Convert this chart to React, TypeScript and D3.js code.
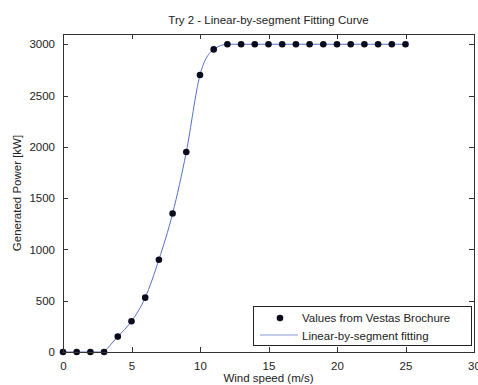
import React, { useEffect, useRef } from "react";
import * as d3 from "d3";

// wind speed (m/s) and power (kW) read from the brochure points
const windSpeed = [0, 1, 2, 3, 4, 5, 6, 7, 8, 9, 10, 11, 12, 13, 14, 15, 16, 17, 18, 19, 20, 21, 22, 23, 24, 25];
const power = [0, 0, 0, 0, 150, 300, 530, 900, 1350, 1950, 2700, 2950, 3000, 3000, 3000, 3000, 3000, 3000, 3000, 3000, 3000, 3000, 3000, 3000, 3000, 3000];
const xTicks = [0, 5, 10, 15, 20, 25, 30];
const yTicks = [0, 500, 1000, 1500, 2000, 2500, 3000];
const seriesNames = ["Values from Vestas Brochure", "Linear-by-segment fitting"];

const App = () => {
  const svgRef = useRef<SVGSVGElement>(null);

  useEffect(() => {
    const W = 478;
    const H = 385;
    const margin = { top: 34, right: 4, bottom: 33, left: 63 };
    const width = W - margin.left - margin.right;
    const height = H - margin.top - margin.bottom;
    const svg = d3.select(svgRef.current);
    svg.selectAll("*").remove();

    const font = "Liberation Sans, Arial, sans-serif";
    const textColor = "#222";

    const xScale = d3.scaleLinear().domain([0, 30]).range([0, width]);
    const yScale = d3.scaleLinear().domain([0, 3100]).range([height, 0]);

    svg.append("rect").attr("width", W).attr("height", H).attr("fill", "#fff");

    const chart = svg.append("g").attr("transform", `translate(${margin.left},${margin.top})`);

    // fitting curve
    const pts = windSpeed.map((d, i) => [d, power[i]] as [number, number]);
    const line = d3
      .line<[number, number]>()
      .x((d) => xScale(d[0]))
      .y((d) => yScale(d[1]))
      .curve(d3.curveMonotoneX);
    chart
      .append("path")
      .datum(pts.slice(3))
      .attr("d", line)
      .attr("fill", "none")
      .attr("stroke", "#5670c8")
      .attr("stroke-width", 1);
    chart
      .append("path")
      .datum(pts.slice(0, 4))
      .attr("d", d3.line<[number, number]>().x((d) => xScale(d[0])).y((d) => yScale(d[1])))
      .attr("fill", "none")
      .attr("stroke", "#5670c8")
      .attr("stroke-width", 1);

    // points
    chart
      .selectAll(".dot")
      .data(pts)
      .enter()
      .append("circle")
      .attr("cx", (d) => xScale(d[0]))
      .attr("cy", (d) => yScale(d[1]))
      .attr("r", 3.3)
      .attr("fill", "#0b0b1e");

    // axes box
    chart
      .append("rect")
      .attr("width", width)
      .attr("height", height)
      .attr("fill", "none")
      .attr("stroke", "#333")
      .attr("stroke-width", 1)
      .attr("shape-rendering", "crispEdges");

    const tick = 5;
    const axisStyle = (g: d3.Selection<SVGGElement, unknown, null, undefined>) => {
      g.select(".domain").remove();
      g.selectAll("line").attr("stroke", "#333").attr("shape-rendering", "crispEdges");
      g.selectAll("text").attr("fill", textColor).style("font-family", font).style("font-size", "11.5px");
    };

    chart
      .append("g")
      .attr("transform", `translate(0,${height})`)
      .call(d3.axisBottom(xScale).tickValues(xTicks).tickSize(-tick).tickPadding(10).tickFormat(d3.format("d")))
      .call(axisStyle);
    chart
      .append("g")
      .call(d3.axisTop(xScale).tickValues(xTicks).tickSize(-tick).tickFormat(() => ""))
      .call(axisStyle);
    chart
      .append("g")
      .call(d3.axisLeft(yScale).tickValues(yTicks).tickSize(-tick).tickPadding(8).tickFormat(d3.format("d")))
      .call(axisStyle);
    chart
      .append("g")
      .attr("transform", `translate(${width},0)`)
      .call(d3.axisRight(yScale).tickValues(yTicks).tickSize(-tick).tickFormat(() => ""))
      .call(axisStyle);

    // title and labels
    svg
      .append("text")
      .attr("x", margin.left + width / 2)
      .attr("y", 24)
      .attr("text-anchor", "middle")
      .attr("fill", textColor)
      .style("font-family", font)
      .style("font-size", "11.5px")
      .text("Try 2 - Linear-by-segment Fitting Curve");
    svg
      .append("text")
      .attr("x", margin.left + width / 2)
      .attr("y", 382)
      .attr("text-anchor", "middle")
      .attr("fill", textColor)
      .style("font-family", font)
      .style("font-size", "11.5px")
      .text("Wind speed (m/s)");
    svg
      .append("text")
      .attr("transform", "rotate(-90)")
      .attr("x", -(margin.top + height / 2))
      .attr("y", 21)
      .attr("text-anchor", "middle")
      .attr("fill", textColor)
      .style("font-family", font)
      .style("font-size", "11.5px")
      .text("Generated Power [kW]");

    // legend
    const legend = svg.append("g").attr("transform", "translate(253,306)");
    legend
      .append("rect")
      .attr("width", 218)
      .attr("height", 39)
      .attr("fill", "#fff")
      .attr("stroke", "#222")
      .attr("shape-rendering", "crispEdges");
    legend.append("circle").attr("cx", 27).attr("cy", 12).attr("r", 3.3).attr("fill", "#0b0b1e");
    legend
      .append("line")
      .attr("x1", 7)
      .attr("x2", 45)
      .attr("y1", 29)
      .attr("y2", 29)
      .attr("stroke", "#8a9bd2")
      .attr("stroke-width", 1.2);
    legend
      .selectAll(".lt")
      .data(seriesNames)
      .enter()
      .append("text")
      .attr("x", 49)
      .attr("y", (d, i) => 16 + i * 17.5)
      .attr("fill", textColor)
      .style("font-family", font)
      .style("font-size", "11.5px")
      .text((d) => d);
  }, []);

  return (
    <svg ref={svgRef} width={478} height={385} style={{ position: "absolute", left: 0, top: 0 }}></svg>
  );
};

export default App;
